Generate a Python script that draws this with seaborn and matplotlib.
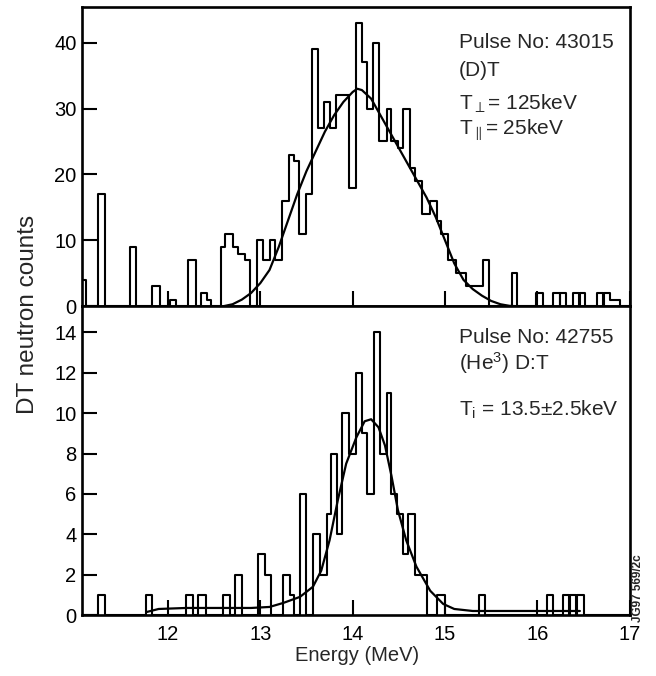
import numpy as np
import pandas as pd
import matplotlib
matplotlib.use("Agg")
import matplotlib.pyplot as plt
import seaborn as sns

# ---------------- data ----------------
# Pulse 43015, (D)T : histogram bin edges (MeV) and counts
top_edges = [11.04, 11.11, 11.24, 11.32, 11.59, 11.66, 11.83, 11.91, 12.02, 12.09,
             12.22, 12.30, 12.36, 12.42, 12.47, 12.57, 12.62, 12.71, 12.76, 12.83,
             12.89, 12.96, 13.03, 13.10, 13.16, 13.24, 13.31, 13.37, 13.42, 13.49,
             13.56, 13.63, 13.69, 13.75, 13.82, 13.96, 14.04, 14.10, 14.15, 14.22,
             14.29, 14.37, 14.42, 14.49, 14.55, 14.62, 14.68, 14.75, 14.84, 14.91,
             14.96, 15.03, 15.12, 15.23, 15.41, 15.48, 15.72, 15.78, 15.98, 16.06,
             16.17, 16.24, 16.25, 16.31, 16.39, 16.45, 16.46, 16.52, 16.64, 16.71,
             16.72, 16.79, 16.89, 17.20]
top_counts = [4, 0, 17, 0, 9, 0, 3, 0, 1, 0,
              7, 0, 2, 1, 0, 9, 11, 9, 8, 7,
              0, 10, 7, 10, 7, 16, 23, 22, 11, 17,
              39, 27, 31, 27, 32, 18, 43, 37, 30, 40,
              25, 30, 25, 24, 30, 21, 19, 14, 16, 13,
              11, 7, 5, 3, 7, 0, 5, 0, 2, 0,
              2, 0, 2, 0, 2, 0, 2, 0, 2, 0,
              2, 1, 0]

# fitted spectrum, pulse 43015
top_fit_e = [12.60, 12.70, 12.80, 12.90, 13.00, 13.10, 13.20, 13.30, 13.40, 13.50,
             13.60, 13.70, 13.80, 13.90, 14.00, 14.05, 14.10, 14.20, 14.30, 14.40,
             14.50, 14.60, 14.70, 14.80, 14.90, 15.00, 15.10, 15.20, 15.30, 15.40,
             15.50, 15.60, 15.70, 15.80]
top_fit_y = [0.0, 0.3, 1.0, 2.0, 3.5, 5.5, 9.0, 13.0, 17.0, 20.5,
             23.5, 26.5, 29.0, 31.0, 32.5, 33.0, 32.8, 31.5, 29.0, 26.5,
             24.0, 21.5, 19.0, 16.5, 13.5, 10.0, 6.5, 4.0, 2.6, 1.6,
             0.8, 0.3, 0.05, 0.0]

# Pulse 42755, (He3) D:T : histogram bin edges (MeV) and counts
bot_edges = [11.00, 11.24, 11.32, 11.76, 11.83, 12.20, 12.27, 12.33, 12.41, 12.60,
             12.67, 12.73, 12.80, 12.98, 13.05, 13.12, 13.25, 13.32, 13.37, 13.43,
             13.50, 13.57, 13.65, 13.72, 13.77, 13.83, 13.89, 13.96, 14.04, 14.10,
             14.15, 14.23, 14.30, 14.37, 14.42, 14.48, 14.54, 14.60, 14.67, 14.80,
             14.91, 15.00, 15.37, 15.43, 16.10, 16.17, 16.28, 16.345, 16.355, 16.415,
             16.425, 16.51, 17.20]
bot_counts = [0, 1, 0, 1, 0, 1, 0, 1, 0, 1,
              0, 2, 0, 3, 2, 0, 2, 1, 0, 6,
              0, 4, 2, 5, 8, 4, 10, 8, 12, 9,
              6, 14, 8, 11, 6, 5, 3, 5, 2, 0,
              1, 0, 1, 0, 1, 0, 1, 0, 1, 0,
              1, 0]

# fitted spectrum, pulse 42755
bot_fit_e = [11.77, 11.90, 12.20, 12.60, 12.90, 13.10, 13.25, 13.43, 13.57, 13.66,
             13.75, 13.84, 13.93, 14.04, 14.13, 14.20, 14.28, 14.35, 14.42, 14.49,
             14.58, 14.69, 14.84, 14.98, 15.10, 15.30, 16.46]
bot_fit_y = [0.15, 0.30, 0.35, 0.35, 0.35, 0.40, 0.60, 0.90, 1.40, 2.20,
             3.70, 5.70, 7.50, 8.80, 9.60, 9.70, 9.30, 8.40, 6.90, 5.20,
             3.70, 2.40, 1.20, 0.55, 0.30, 0.20, 0.20]

x_ticks = [12, 13, 14, 15, 16, 17]
top_yticks = [0, 10, 20, 30, 40]
bot_yticks = [0, 2, 4, 6, 8, 10, 12, 14]

# ---------------- style ----------------
sns.set_style("ticks", {"xtick.direction": "in", "ytick.direction": "in",
                        "axes.edgecolor": "black"})
plt.rcParams["font.family"] = ["Liberation Sans", "DejaVu Sans"]
plt.rcParams["mathtext.fontset"] = "custom"
plt.rcParams["mathtext.rm"] = "Liberation Sans"
plt.rcParams["mathtext.it"] = "Liberation Sans:italic"
plt.rcParams["mathtext.sf"] = "Liberation Sans"

fig = plt.figure(figsize=(6.56, 6.76), dpi=100)
ax1 = fig.add_axes([0.125, 0.547, 0.835, 0.4426])
ax2 = fig.add_axes([0.125, 0.0902, 0.835, 0.4568])


def draw_hist(ax, edges, counts):
    e = [float(v) for v in edges]
    df = pd.DataFrame({
        "energy": [(a + b) / 2 for a, b in zip(e[:-1], e[1:])],
        "counts": [float(c) for c in counts],
    })
    sns.histplot(data=df, x="energy", weights="counts", bins=e, element="step",
                 fill=False, color="black", linewidth=1.5, ax=ax)


draw_hist(ax1, top_edges, top_counts)
sns.lineplot(x=top_fit_e, y=top_fit_y, ax=ax1, color="black", linewidth=1.6)
draw_hist(ax2, bot_edges, bot_counts)
sns.lineplot(x=bot_fit_e, y=bot_fit_y, ax=ax2, color="black", linewidth=1.6)

for ax in (ax1, ax2):
    ax.set_xlim(11.07, 17.0)
    ax.set_xticks(x_ticks)
    ax.set_ylabel("")
    ax.set_xlabel("")
    for s in ax.spines.values():
        s.set_linewidth(1.9)
        s.set_color("black")
    ax.tick_params(axis="both", which="major", direction="in", length=11,
                   width=1.5, labelsize=14.5, colors="black", pad=4)

ax1.set_ylim(0, 45.4)
ax1.set_yticks(top_yticks)
ax1.tick_params(axis="x", labelbottom=False)
ax2.set_ylim(0, 15.3)
ax2.set_yticks(bot_yticks)
ax2.tick_params(axis="x", pad=7)

tx = 0.688
ax1.text(tx, 0.880, "Pulse No: 43015", transform=ax1.transAxes, fontsize=15, va="center", ha="left")
ax1.text(tx, 0.789, "(D)T", transform=ax1.transAxes, fontsize=15, va="center", ha="left")
ax1.text(tx, 0.676, r"T$_{\perp}$= 125keV", transform=ax1.transAxes, fontsize=15, va="center", ha="left")
ax1.text(tx, 0.589, r"T$_{\parallel}$= 25keV", transform=ax1.transAxes, fontsize=15, va="center", ha="left")

ax2.text(tx, 0.900, "Pulse No: 42755", transform=ax2.transAxes, fontsize=15, va="center", ha="left")
ax2.text(tx, 0.816, r"(He$^{3}$) D:T", transform=ax2.transAxes, fontsize=15, va="center", ha="left")
ax2.text(tx, 0.663, r"T$_{\mathrm{i}}$ = 13.5±2.5keV", transform=ax2.transAxes, fontsize=15, va="center", ha="left")

fig.text(0.043, 0.5355, "DT neutron counts", rotation=90, va="center", ha="center", fontsize=17.5)
fig.text(0.544, 0.031, "Energy (MeV)", va="center", ha="center", fontsize=14.5)
fig.text(0.972, 0.130, "JG97 569/2c", rotation=90, va="center", ha="center",
         fontsize=8.5, fontweight="bold")

fig.savefig("out.png", dpi=100)
